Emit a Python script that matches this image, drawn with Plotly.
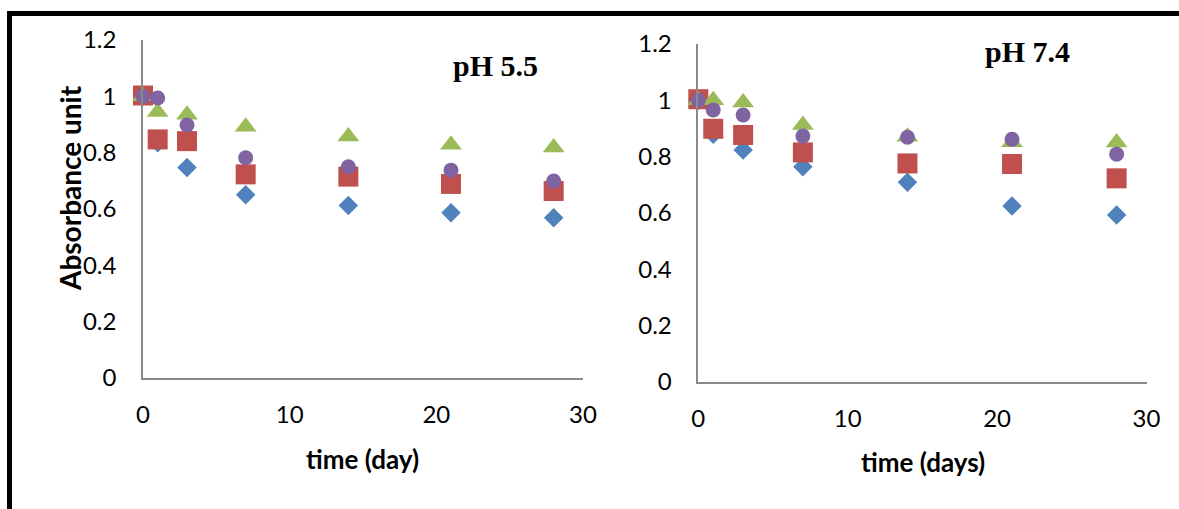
import plotly.graph_objects as go

# Sampling days
days = [0, 1, 3, 7, 14, 21, 28]

# Absorbance at pH 5.5 (four formulations)
ph55_diamond = [1.000, 0.835, 0.747, 0.651, 0.612, 0.587, 0.569]
ph55_square = [1.003, 0.847, 0.841, 0.723, 0.715, 0.689, 0.664]
ph55_triangle = [1.000, 0.944, 0.935, 0.892, 0.857, 0.828, 0.818]
ph55_circle = [1.000, 0.994, 0.898, 0.782, 0.750, 0.738, 0.699]

# Absorbance at pH 7.4 (four formulations)
ph74_diamond = [1.000, 0.880, 0.824, 0.764, 0.709, 0.625, 0.593]
ph74_square = [1.004, 0.899, 0.877, 0.815, 0.776, 0.774, 0.723]
ph74_triangle = [1.000, 1.000, 0.992, 0.912, 0.871, 0.851, 0.850]
ph74_circle = [1.000, 0.966, 0.948, 0.873, 0.869, 0.862, 0.809]

x_ticks = [0, 10, 20, 30]
x_tick_labels = ["0", "10", "20", "30"]
y_ticks = [0, 0.2, 0.4, 0.6, 0.8, 1.0, 1.2]
y_tick_labels = ["0", "0.2", "0.4", "0.6", "0.8", "1", "1.2"]

W, H = 1179, 509


def fx(p):
    return p / W


def fy(p):
    return 1 - p / H


styles = [
    dict(symbol="diamond", color="#4F81BD", size=15),
    dict(symbol="square", color="#C0504D", size=20),
    dict(symbol="triangle-up", color="#9BBB59", size=19),
    dict(symbol="circle", color="#8064A2", size=15),
]

fig = go.Figure()

panels = [
    ("x", "y", [ph55_diamond, ph55_square, ph55_triangle, ph55_circle]),
    ("x2", "y2", [ph74_diamond, ph74_square, ph74_triangle, ph74_circle]),
]
for xa, ya, series in panels:
    for i, (vals, st) in enumerate(zip(series, styles)):
        fig.add_trace(go.Scatter(
            x=days, y=vals, mode="markers", xaxis=xa, yaxis=ya,
            name=f"Series {i + 1}", showlegend=False, cliponaxis=False,
            marker=dict(symbol=st["symbol"], color=st["color"], size=st["size"],
                        line=dict(width=0)),
        ))

tick_font = dict(family="Lato", size=24, color="black")
axis_line = dict(showline=True, linecolor="#8a8a8a", linewidth=1.5,
                 showgrid=False, zeroline=False, ticks="", tickfont=tick_font,
                 automargin=False)

fig.update_layout(
    width=W, height=H,
    margin=dict(l=0, r=0, t=0, b=0, pad=0, autoexpand=False),
    paper_bgcolor="white", plot_bgcolor="white",
    xaxis=dict(domain=[fx(143), fx(583)], range=[0, 30], anchor="y",
               tickvals=x_ticks, ticktext=x_tick_labels, ticklabelstandoff=14, **axis_line),
    yaxis=dict(domain=[fy(378), fy(40)], range=[0, 1.2], anchor="x",
               tickvals=y_ticks, ticktext=y_tick_labels, ticklabelstandoff=20, **axis_line),
    xaxis2=dict(domain=[fx(698.3), fx(1146.5)], range=[0, 30], anchor="y2",
                tickvals=x_ticks, ticktext=x_tick_labels, ticklabelstandoff=14, **axis_line),
    yaxis2=dict(domain=[fy(382), fy(44)], range=[0, 1.2], anchor="x2",
                tickvals=y_ticks, ticktext=y_tick_labels, ticklabelstandoff=20, **axis_line),
)

title_font = dict(family="Lato", size=26, color="black")
annotations = [
    dict(text="<b>pH 5.5</b>", x=fx(495), y=fy(65),
         font=dict(family="Liberation Serif", size=30, color="black")),
    dict(text="<b>pH 7.4</b>", x=fx(1027), y=fy(52),
         font=dict(family="Liberation Serif", size=30, color="black")),
    dict(text="<b>time (day)</b>", x=fx(362), y=fy(459), font=title_font),
    dict(text="<b>time (days)</b>", x=fx(923), y=fy(462), font=title_font),
    dict(text="<b>Absorbance unit</b>", x=fx(70), y=fy(188), textangle=-90,
         font=dict(family="Lato", size=28, color="black")),
]
for a in annotations:
    fig.add_annotation(xref="paper", yref="paper", showarrow=False,
                       xanchor="center", yanchor="middle", **a)

# Frame drawn along the top and left edges
fig.add_shape(type="line", xref="paper", yref="paper",
              x0=fx(7), x1=1, y0=fy(13.5), y1=fy(13.5),
              line=dict(color="black", width=5))
fig.add_shape(type="line", xref="paper", yref="paper",
              x0=fx(9.5), x1=fx(9.5), y0=fy(11), y1=0,
              line=dict(color="black", width=5))

fig.write_html(
    "out.html",
    config={"responsive": False},
    post_script="document.body.style.margin='0';document.body.style.overflow='hidden';",
)
